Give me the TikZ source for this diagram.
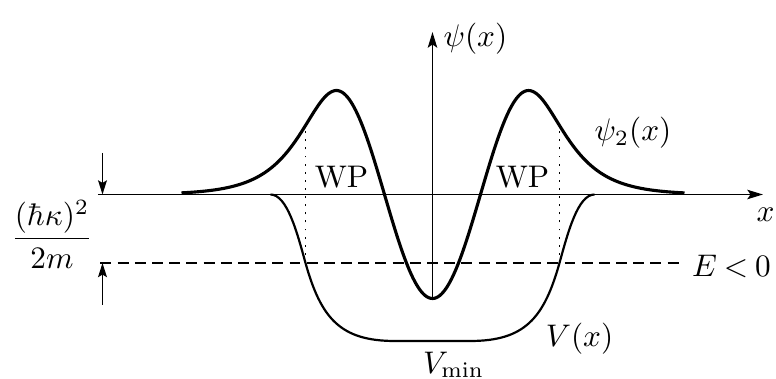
\documentclass[tikz,border=0pt]{standalone}
\usetikzlibrary{arrows.meta}
\begin{document}
\begin{tikzpicture}[x=0.32pt,y=0.32pt,
  axis/.style={line width=0.6pt,-{Stealth[length=5pt,width=3pt,inset=1pt]}},
  wave/.style={line width=1pt,line join=round},
  pot/.style={line width=0.7pt},
  energy/.style={line width=0.6pt,dash pattern=on 3.5pt off 2pt},
  turn/.style={line width=0.6pt,dotted},
  measure/.style={line width=0.6pt,-{Stealth[length=4.5pt,width=2.8pt,inset=0.8pt]}},
  lbl/.style={inner sep=0pt,font=\fontsize{10}{12}\selectfont}]
\useasboundingbox (-432.5,-184.5) rectangle (343.5,194.5);
% coordinates
\coordinate (xstart) at (-334.5,0);
\coordinate (xend) at (330.5,0);
\coordinate (ystart) at (0,-104);
\coordinate (yend) at (0,162.5);
\coordinate (estart) at (-332,-68.5);
\coordinate (eend) at (247.5,-68.5);
\coordinate (tlA) at (-127,-68.5);
\coordinate (tlB) at (-127,69.1);
\coordinate (trA) at (127,-68.5);
\coordinate (trB) at (127,69.1);
\coordinate (a1s) at (-330,41.5);
\coordinate (a1e) at (-330,0);
\coordinate (a2s) at (-330,-110.5);
\coordinate (a2e) at (-330,-68.5);
% energy level and turning points
\draw[energy] (estart) -- (eend);
\draw[turn] (tlA) -- (tlB);
\draw[turn] (trA) -- (trB);
% axes
\draw[axis] (xstart) -- (xend);
\draw[axis] (ystart) -- (yend);
% measure arrows
\draw[measure] (a1s) -- (a1e);
\draw[measure] (a2s) -- (a2e);
% potential
\draw[pot] (-162,0) .. controls (-145.5,0) and (-135.5,-37.5) .. (-127,-68.5)
  .. controls (-111.5,-123.5) and (-92.5,-146.5) .. (-37.5,-146.5)
  -- (37.5,-146.5)
  .. controls (92.5,-146.5) and (111.5,-123.5) .. (127,-68.5)
  .. controls (135.5,-37.5) and (145.5,0) .. (162,0);
% wave function
\draw[wave] plot[domain=-251:252,samples=301]
  (\x,{abs(\x)<96 ? -104*cos(\x*1.875) : 104/cosh((abs(\x)-96)/32)});
% labels
\node[lbl,anchor=base west] (psilab) at (10.5,147.5) {$\psi(x)$};
\node[lbl,anchor=base] (xlab) at (333,-26.5) {$x$};
\node[lbl,anchor=base] (psitwolab) at (200.5,53.5) {$\psi_2(x)$};
\node[lbl,anchor=base] (wpl) at (-91,6.5) {WP};
\node[lbl,anchor=base] (wpr) at (90,7) {WP};
\node[lbl,anchor=base] (elab) at (299,-82.2) {$E\mkern-1mu<\mkern-1mu0$};
\node[lbl,anchor=base] (vlab) at (147,-152.2) {$V(x)$};
\node[lbl,anchor=base west] (vminlab) at (-10,-178.5) {$V_{\min}$};
\node[lbl] (fraclab) at (-380.5,-39.5) {$\displaystyle\frac{(\hbar\kappa)^2}{2m}$};
\end{tikzpicture}
\end{document}
